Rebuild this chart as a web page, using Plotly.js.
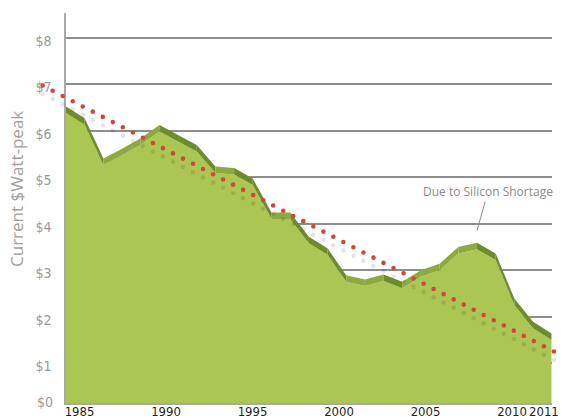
<!DOCTYPE html>
<html>
<head>
<meta charset="utf-8">
<script src="https://cdn.plot.ly/plotly-3.0.1.min.js"></script>
<style>
  html, body { margin: 0; padding: 0; background: #ffffff; }
  #chart { width: 562px; height: 420px; }
  .js-line { stroke-linecap: round !important; }
</style>
</head>
<body>
<div id="chart"></div>
<script>
// ---- data ----
const years = [1985,1986,1987,1988,1989,1990,1991,1992,1993,1994,1995,1996,1997,1998,1999,
               2000,2001,2002,2003,2004,2005,2006,2007,2008,2009,2010,2011];
const price = [6.38,6.13,5.26,5.47,5.70,5.98,5.77,5.55,5.09,5.06,4.83,4.10,4.10,3.58,3.33,
               2.75,2.66,2.77,2.61,2.86,3.00,3.36,3.45,3.22,2.25,1.75,1.50];
const trendYears = [1983.75, 2011.41];
const trendPrice = [6.97, 1.19];
const xTickYears = [1985, 1990, 1995, 2000, 2005, 2010];
const lastYearLabel = '2011';
const yTickValues = [1, 2, 3, 4, 5, 6, 7, 8];
const yTickText = ['$1', '$2', '$3', '$4', '$5', '$6', '$7', '$8'];
const yZeroLabel = '$0';
const peakNote = 'Due to Silicon Shortage';
const yTitle = 'Current $Watt-peak';

// ---- styles ----
const W = 562, H = 420;
const plotLeft = 66, plotRight = 551.7, plotTop = 13, plotBottom = 403;
const yRange = [0.144, 8.531];
const bandDepth = 0.14;        // thickness of the 3D top edge, in $ units
const shadowDrop = 0.18;       // offset of the grey shadow dots
const narrow = '"Liberation Sans Narrow", "DejaVu Sans Condensed", "Roboto Condensed", "Arial Narrow", sans-serif';
const green = '#abc653', bandLight = '#8ea93d', bandDark = '#6f8c2c';

const pxPerYear = (plotRight - plotLeft) / (years[years.length - 1] - years[0]);

const traces = [];
// main green area
traces.push({
  type: 'scatter', mode: 'lines', x: years, y: price,
  fill: 'tozeroy', fillcolor: green, line: { width: 0, color: green },
  hoverinfo: 'skip', showlegend: false
});
// 3D top edge, one face per segment
for (let i = 0; i < years.length - 1; i++) {
  const falling = price[i + 1] < price[i] - 0.12;
  traces.push({
    type: 'scatter', mode: 'lines',
    x: [years[i], years[i + 1], years[i + 1], years[i], years[i]],
    y: [price[i] + bandDepth, price[i + 1] + bandDepth, price[i + 1], price[i], price[i] + bandDepth],
    fill: 'toself', fillcolor: falling ? bandDark : bandLight,
    line: { width: 0 }, hoverinfo: 'skip', showlegend: false
  });
}
// empty trace so the label axis is drawn
traces.push({ type: 'scatter', x: [], y: [], xaxis: 'x2', yaxis: 'y', showlegend: false, hoverinfo: 'skip' });
// trend: grey shadow then red dots
traces.push({
  type: 'scatter', mode: 'lines', xaxis: 'x3', yaxis: 'y3',
  x: trendYears, y: trendPrice.map(v => v - shadowDrop),
  line: { color: 'rgba(0,0,0,0.10)', width: 4.6, dash: '0px,11.3px' },
  hoverinfo: 'skip', showlegend: false
});
traces.push({
  type: 'scatter', mode: 'lines', xaxis: 'x3', yaxis: 'y3',
  x: trendYears, y: trendPrice,
  line: { color: '#d2463c', width: 4.6, dash: '0px,11.3px' },
  hoverinfo: 'skip', showlegend: false
});

// label axis scale (as positioned in the reference)
const labelPx1985 = 79.5, labelPxPerYear = 17.3;
const lab0 = 1985 - (labelPx1985 - plotLeft) / labelPxPerYear;
const lab1 = lab0 + (plotRight - plotLeft) / labelPxPerYear;

const x3Left = 38, x3Right = 562;
const peakIdx = price.indexOf(Math.max(...price.slice(15)));

const layout = {
  width: W, height: H,
  margin: { l: 0, r: 0, t: 0, b: 0, pad: 0 },
  paper_bgcolor: '#ffffff', plot_bgcolor: 'rgba(0,0,0,0)',
  showlegend: false, hovermode: false,
  xaxis: {
    domain: [plotLeft / W, plotRight / W], range: [years[0], years[years.length - 1]],
    anchor: 'y', showgrid: false, zeroline: false, showline: true,
    linecolor: '#a8a8a8', linewidth: 1.5, showticklabels: false, ticks: ''
  },
  xaxis2: {
    overlaying: 'x', anchor: 'y', side: 'bottom', range: [lab0, lab1],
    tickvals: xTickYears, ticktext: xTickYears.map(String), tickangle: 0,
    showgrid: false, zeroline: false, showline: false, ticks: '', ticklabelstandoff: -1,
    tickfont: { family: narrow, size: 13, color: '#231f20' }
  },
  yaxis: {
    domain: [(H - plotBottom) / H, (H - plotTop) / H], range: yRange, anchor: 'x',
    tickvals: yTickValues, ticktext: yTickText,
    showgrid: true, gridcolor: '#8e8e8e', gridwidth: 2,
    zeroline: false, showline: true, linecolor: '#a8a8a8', linewidth: 1.7,
    ticks: '', ticklabelstandoff: 10, ticklabelshift: 3,
    tickfont: { family: narrow, size: 14, color: '#9b9b9b' }
  },
  xaxis3: {
    domain: [x3Left / W, x3Right / W],
    range: [years[0] - (plotLeft - x3Left) / pxPerYear, years[0] + (x3Right - plotLeft) / pxPerYear],
    anchor: 'y3', visible: false
  },
  yaxis3: {
    domain: [(H - plotBottom) / H, (H - plotTop) / H], range: yRange, anchor: 'x3', visible: false
  },
  annotations: [
    {
      text: peakNote, xref: 'x', yref: 'y', x: years[peakIdx], y: price[peakIdx] + 0.4,
      ax: 11, ay: -39, showarrow: true, arrowhead: 0, arrowwidth: 1, arrowcolor: '#8c8c8c',
      font: { family: '"Open Sans", sans-serif', size: 12, color: '#8c8c8c' }
    },
    {
      text: yZeroLabel, xref: 'paper', yref: 'paper', x: 53.5 / W, y: (H - plotBottom + 1) / H,
      xanchor: 'right', yanchor: 'middle', showarrow: false, borderpad: 0,
      font: { family: narrow, size: 14, color: '#9b9b9b' }
    },
    {
      text: lastYearLabel, xref: 'x', yref: 'paper', x: years[years.length - 1], xshift: -8,
      y: (H - 411) / H, yanchor: 'middle', showarrow: false, borderpad: 0,
      font: { family: narrow, size: 13, color: '#231f20' }
    },
    {
      text: yTitle, xref: 'paper', yref: 'paper', x: 17 / W, y: (H - 189) / H,
      xanchor: 'center', yanchor: 'middle', textangle: -90, showarrow: false,
      font: { family: '"Open Sans", sans-serif', size: 17, color: '#a0a0a0' }
    }
  ]
};

Plotly.newPlot('chart', traces, layout, { staticPlot: true, displayModeBar: false });
</script>
</body>
</html>
